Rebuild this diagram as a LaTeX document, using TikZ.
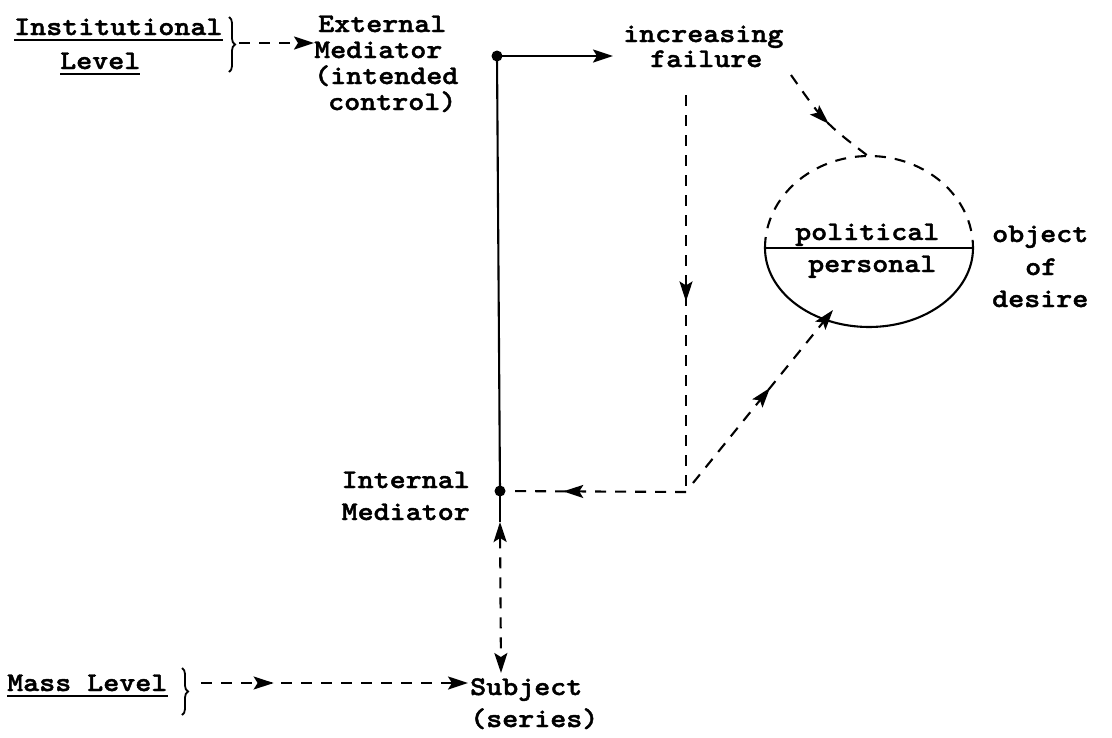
\documentclass[tikz,border=0pt]{standalone}
\usepackage{fontspec}
\newfontfamily\tw{lmmonolt10-bold}[Extension=.otf, FakeStretch=1.13, FakeBold=1.6]
\usetikzlibrary{arrows.meta,decorations.pathreplacing,decorations.markings}
\begin{document}
\begin{tikzpicture}[x=1pt,y=-1pt,
  txt/.style={font=\tw\fontsize{27}{30}\selectfont, inner sep=0pt, anchor=base west},
  ln/.style={line width=2.1pt},
  dsh/.style={ln, dash pattern=on 11pt off 9pt},
  tip/.style={-{Stealth[length=20pt,width=13pt,inset=4pt]}},
  midarr/.style={postaction={decorate}, decoration={markings, mark=at position #1 with {\arrow{Stealth[length=20pt,width=13pt,inset=4pt]}}}},
  ulin/.style={line width=2.6pt},
  dotn/.style={circle, fill, inner sep=0pt, minimum size=11pt},
  brc/.style={line width=1.8pt, decorate, decoration={brace, amplitude=6pt}}
]
\useasboundingbox (0,0) rectangle (1112,737);

% labels
\node[txt] (inst) at (14,35) {Institutional};
\node[txt] (lev) at (60,69) {Level};
\draw[ulin] ([yshift=-5pt]inst.base west) -- ([yshift=-5pt]inst.base east);
\draw[ulin] ([yshift=-5pt]lev.base west) -- ([yshift=-5pt]lev.base east);

\node[txt] (ext1) at (318,32) {External};
\node[txt] (ext2) at (314,58) {Mediator};
\node[txt] (ext3) at (314,84) {(intended};
\node[txt] (ext4) at (328,110) {control)};

\node[txt] (inc1) at (623,42) {increasing};
\node[txt] (inc2) at (650,67) {failure};

\node[txt] (pol) at (795,240) {political};
\node[txt] (pers) at (808,272) {personal};

\node[txt] (obj1) at (992,242) {object};
\node[txt] (obj2) at (1025,275) {of};
\node[txt] (obj3) at (992,307) {desire};

\node[txt, anchor=base east] (int1) at (470,488) {Internal};
\node[txt, anchor=base east] (int2) at (470,520) {Mediator};

\node[txt] (mass) at (7,691) {Mass Level};
\draw[ulin] ([yshift=-5pt]mass.base west) -- ([yshift=-5pt]mass.base east);

\node[txt] (subj1) at (470,695) {Subject};
\node[txt] (subj2) at (470,727) {(series)};

% dots
\node[dotn] (dotT) at (497,56) {};
\node[dotn] (dotB) at (500,491) {};

% braces
\draw[brc] (229,17) -- (229,72);
\draw[brc] (182,668) -- (182,715);

% coordinates
\coordinate (ib) at (239,43);
\coordinate (fstart) at (791,75);
\coordinate (ftop) at (868,156);
\coordinate (vtop) at (686,95);
\coordinate (corner) at (686,492);
\coordinate (diag0) at (693,483);
\coordinate (etip) at (833,310);
\coordinate (upt) at (500,522);
\coordinate (dnt) at (501,673);
\coordinate (mb) at (201,683);

% connectors
\draw[dsh, tip] (ib) -- (ib -| ext2.west);
\draw[ln] (dotT.center) -- (dotB.center);
\draw[ln, tip, shorten >=10pt] (dotT.center) -- (dotT -| inc1.west);

\draw[dsh, midarr=0.55] (fstart) .. controls (824,122) .. (ftop);
\draw[dsh, midarr=0.52] (vtop) -- (corner);
\draw[dsh, midarr=0.66, shorten >=9pt] (corner) -- (dotB.center);
\draw[dsh, tip, midarr=0.55] (diag0) -- (etip);

\draw[ln] (dotB.center) -- (upt);
\draw[dsh, {Stealth[length=20pt,width=13pt,inset=4pt]}-{Stealth[length=20pt,width=13pt,inset=4pt]}] (upt) -- (dnt);
\draw[dsh, tip, midarr=0.27, shorten >=2pt] (mb) -- (mb -| subj1.west);

% ellipse
\draw[dsh] (765,248) arc[start angle=180, end angle=0, x radius=104pt, y radius=92pt];
\draw[ln] (765,248) arc[start angle=180, end angle=360, x radius=104pt, y radius=79pt];
\draw[ln] (765,248) -- (973,248);
\end{tikzpicture}
\end{document}
